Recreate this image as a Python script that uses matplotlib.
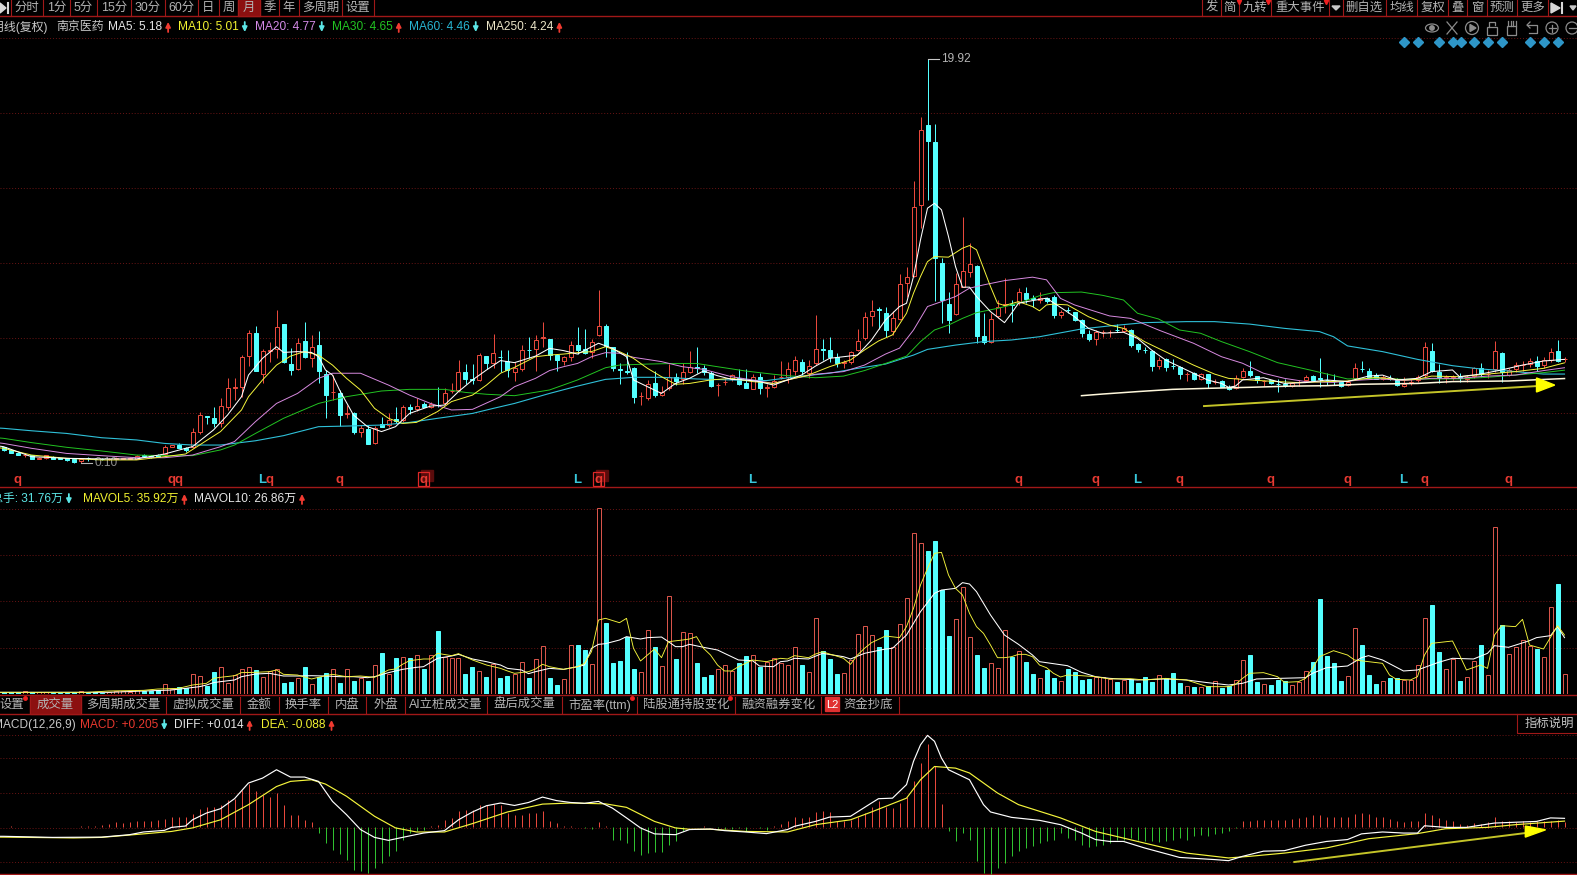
import matplotlib
matplotlib.use("Agg")
import matplotlib.pyplot as plt
from matplotlib.patches import Circle, Ellipse, Rectangle

plt.rcParams["font.family"] = ["Liberation Sans", "Noto Sans CJK SC", "DejaVu Sans"]

W, H = 1577, 875
BAR_RED = "#e8483c"
BAR_CYAN = "#54ffff"
LINE_RED = "#a01818"
GRID_RED = "#6a1414"

# monthly candles, left to right
OPEN = [
    .87, .74, .61, .49, .49, .31, .33, .38, .33, .33, .28, .18, .36, .30, .30, .29, .30, .31, .31, .30,
    .51, .44, .48, .54, .90, .98, .82, .90, 1.63, 2.40, 2.29, 2.08, 2.86, 3.79, 3.81, 5.36, 6.46, 4.45, 5.60, 5.69,
    6.91, 4.95, 4.69, 6.08, 5.26, 5.88, 4.45, 3.58, 3.51, 2.52, 2.54, 1.60, 1.77, 1.06, 2.01, 1.96, 2.24, 2.21, 2.83, 2.75,
    2.99, 2.83, 2.96, 3.02, 3.62, 3.68, 4.54, 4.21, 4.17, 5.36, 5.02, 5.32, 5.12, 4.58, 4.69, 5.65, 5.69, 6.25, 6.18, 5.39,
    5.10, 5.28, 5.87, 5.67, 5.56, 6.37, 6.82, 5.77, 4.70, 4.59, 4.74, 3.38, 3.27, 4.00, 3.43, 3.76, 4.33, 4.20, 4.58, 4.80,
    4.77, 4.53, 3.90, 4.07, 4.20, 4.25, 4.00, 3.74, 4.33, 3.80, 3.81, 4.32, 4.30, 4.63, 5.03, 4.49, 5.02, 5.67, 5.64, 5.28,
    5.01, 5.07, 5.64, 6.22, 7.31, 7.64, 7.44, 6.59, 7.18, 8.91, 9.27, 12.75, 16.67, 15.82, 9.89, 7.90, 7.41, 8.72, 9.45, 9.76,
    6.33, 6.05, 7.31, 7.85, 7.87, 8.01, 8.42, 8.18, 8.09, 8.18, 8.25, 7.35, 7.60, 7.52, 7.11, 6.42, 6.16, 6.50, 6.50, 6.62,
    6.57, 6.62, 5.93, 5.65, 5.59, 4.85, 5.18, 4.86, 4.82, 4.45, 4.53, 4.23, 4.46, 4.07, 4.12, 3.84, 3.76, 4.30, 4.63, 4.36,
    4.11, 4.17, 3.98, 3.96, 3.87, 4.06, 4.17, 4.36, 4.25, 4.17, 4.12, 4.05, 3.92, 4.25, 4.72, 4.63, 4.40, 4.23, 4.25, 4.17,
    3.87, 4.00, 4.17, 4.41, 5.59, 4.58, 4.29, 4.29, 4.31, 4.23, 4.36, 4.77, 4.45, 4.69, 5.51, 4.41, 4.71, 4.89, 4.94, 5.10,
    4.90, 5.15, 5.59, 5.18,
]
HIGH = [
    .90, .76, .62, .61, .50, .38, .50, .42, .36, .35, .30, .30, .40, .33, .33, .36, .40, .36, .38, .50,
    .55, .47, .52, .98, 1.00, 1.06, .90, 1.80, 2.62, 2.42, 2.86, 3.27, 4.25, 4.25, 5.39, 6.62, 6.82, 5.67, 6.05, 7.60,
    6.91, 5.72, 6.21, 7.00, 6.37, 6.57, 4.66, 4.41, 3.68, 2.94, 2.62, 1.96, 1.96, 1.91, 2.37, 2.57, 2.86, 2.94, 2.99, 3.27,
    3.11, 3.11, 3.81, 3.76, 4.00, 5.15, 4.95, 4.95, 5.48, 5.36, 6.42, 5.64, 5.64, 5.07, 5.88, 6.29, 6.37, 7.03, 6.18, 5.44,
    5.34, 6.08, 6.75, 6.65, 6.16, 8.58, 6.91, 5.80, 4.98, 5.56, 4.79, 3.60, 4.17, 4.63, 3.89, 4.95, 4.50, 4.98, 5.61, 5.77,
    4.90, 4.63, 4.00, 4.25, 4.46, 4.71, 4.69, 4.45, 4.53, 3.97, 4.41, 5.12, 5.07, 5.34, 5.18, 5.15, 7.35, 6.16, 6.26, 5.48,
    5.15, 5.61, 6.66, 7.52, 8.09, 7.77, 7.77, 7.57, 9.37, 9.70, 13.90, 17.05, 19.92, 16.72, 10.14, 8.47, 9.40, 12.15, 10.90, 9.81,
    7.44, 7.44, 8.09, 9.16, 8.09, 8.67, 8.75, 8.34, 8.50, 8.26, 8.34, 7.60, 7.76, 7.52, 7.14, 6.62, 6.62, 6.62, 6.62, 6.91,
    6.86, 6.65, 5.97, 5.80, 5.64, 5.31, 5.23, 5.18, 4.85, 4.58, 4.58, 4.50, 4.46, 4.22, 4.17, 3.92, 4.41, 4.74, 5.10, 4.36,
    4.17, 4.17, 4.20, 4.20, 4.09, 4.17, 4.41, 4.41, 5.23, 4.53, 4.46, 4.09, 4.17, 5.02, 5.10, 4.74, 4.50, 4.41, 4.41, 4.25,
    4.33, 4.20, 4.41, 6.01, 5.97, 4.94, 4.41, 4.41, 4.53, 4.41, 4.82, 4.99, 4.66, 6.08, 5.56, 4.74, 5.07, 5.12, 5.23, 5.34,
    5.31, 5.75, 6.13, 5.31,
]
LOW = [
    .70, .58, .48, .41, .28, .30, .32, .28, .28, .22, .12, .10, .22, .25, .25, .26, .28, .29, .29, .28,
    .42, .36, .38, .49, .87, .82, .66, .82, 1.50, 1.99, 1.88, 1.85, 2.70, 3.19, 3.35, 4.87, 4.63, 4.00, 5.07, 5.23,
    4.99, 4.41, 4.66, 5.26, 4.79, 4.00, 2.32, 3.19, 1.91, 2.29, 1.50, 1.39, 1.03, 1.03, 1.85, 1.88, 2.04, 2.13, 2.50, 2.66,
    2.83, 2.78, 2.86, 2.94, 3.51, 3.60, 3.96, 3.96, 4.12, 4.71, 4.74, 4.58, 4.30, 4.14, 4.63, 5.23, 4.63, 5.80, 5.15, 4.63,
    4.90, 5.10, 5.44, 5.44, 5.23, 6.32, 5.28, 4.63, 3.97, 4.46, 3.06, 2.94, 3.19, 3.32, 3.38, 3.68, 3.92, 3.97, 4.50, 4.53,
    4.41, 3.81, 3.38, 3.92, 4.14, 3.92, 3.76, 3.71, 3.48, 3.32, 3.76, 4.20, 4.00, 4.41, 4.41, 4.25, 4.90, 5.15, 5.07, 4.79,
    4.77, 4.95, 5.60, 6.13, 6.82, 6.66, 6.30, 6.38, 7.11, 8.26, 9.21, 11.61, 13.00, 8.02, 6.95, 6.46, 7.36, 8.72, 9.21, 5.97,
    5.94, 6.00, 7.20, 7.44, 7.03, 7.85, 7.93, 7.77, 7.93, 7.93, 7.19, 7.19, 7.44, 7.08, 6.29, 6.10, 5.88, 6.29, 6.26, 6.51,
    6.51, 5.80, 5.56, 5.51, 4.63, 4.71, 4.63, 4.69, 4.23, 4.14, 4.17, 4.17, 3.76, 3.97, 3.81, 3.68, 3.71, 4.25, 4.30, 4.04,
    3.87, 3.97, 3.60, 3.84, 3.84, 3.87, 4.09, 4.14, 3.81, 3.92, 3.92, 3.84, 3.87, 4.17, 4.58, 4.25, 4.20, 4.17, 4.17, 3.87,
    3.81, 3.92, 4.09, 4.25, 4.58, 4.00, 4.04, 4.17, 4.09, 4.09, 4.25, 4.30, 4.25, 4.58, 4.09, 4.36, 4.58, 4.63, 4.82, 4.63,
    4.74, 5.07, 5.07, 5.07,
]
CLOSE = [
    .74, .61, .51, .51, .30, .36, .48, .31, .31, .25, .15, .28, .34, .28, .28, .31, .36, .33, .33, .46,
    .44, .38, .41, .90, .97, .85, .74, 1.60, 2.45, 2.35, 2.04, 2.89, 3.76, 3.81, 5.31, 6.46, 4.63, 5.59, 5.62, 6.75,
    5.05, 4.66, 5.97, 5.31, 5.77, 4.63, 3.43, 3.60, 2.45, 2.54, 1.63, 1.80, 1.03, 1.80, 1.88, 2.21, 2.17, 2.83, 2.75, 2.88,
    2.86, 2.99, 2.94, 3.51, 3.63, 4.54, 4.22, 4.19, 5.39, 4.99, 5.48, 5.30, 4.66, 4.77, 5.64, 5.63, 6.13, 6.27, 5.39, 5.15,
    5.28, 5.88, 5.64, 5.51, 6.03, 6.82, 5.83, 4.74, 4.68, 4.57, 3.32, 3.40, 3.97, 3.43, 3.60, 4.30, 4.14, 4.54, 4.82, 4.78,
    4.54, 3.87, 3.92, 4.09, 4.41, 3.97, 3.79, 4.33, 3.76, 3.81, 4.14, 4.33, 4.69, 5.15, 4.63, 4.85, 5.67, 5.65, 5.28, 5.02,
    5.03, 5.54, 6.10, 7.25, 7.57, 7.62, 6.62, 7.20, 8.86, 9.24, 12.67, 16.43, 15.86, 10.14, 8.09, 7.11, 8.86, 9.52, 9.84, 6.35,
    6.05, 7.15, 7.77, 7.87, 7.85, 8.47, 8.13, 8.16, 8.18, 8.06, 7.35, 7.52, 7.58, 7.11, 6.49, 6.16, 6.51, 6.52, 6.52, 6.60,
    6.70, 5.88, 5.67, 5.63, 4.85, 5.15, 4.82, 4.84, 4.46, 4.47, 4.22, 4.46, 4.04, 4.09, 3.84, 3.71, 4.28, 4.63, 4.41, 4.17,
    4.13, 4.00, 3.96, 3.94, 4.00, 4.08, 4.33, 4.17, 4.23, 4.15, 4.10, 3.89, 4.07, 4.74, 4.70, 4.33, 4.23, 4.33, 4.23, 3.92,
    3.97, 4.09, 4.33, 5.80, 4.63, 4.33, 4.31, 4.31, 4.29, 4.33, 4.74, 4.46, 4.47, 5.59, 4.56, 4.66, 4.90, 4.91, 5.10, 4.87,
    5.15, 5.56, 5.12, 5.20,
]
VOLUME = [
    3.8, 2.7, 2.7, 4.8, 2.7, 3.8, 2.7, 2.1, 2.1, 2.1, 3.2, 4.8, 2.1, 3.2, 2.1, 3.8, 5.4, 4.8, 3.8, 6.4,
    5.4, 5.4, 7.0, 15.6, 8.1, 10.7, 10.2, 31.7, 29.0, 13.4, 34.9, 43.5, 18.3, 30.6, 39.7, 43.5, 38.1, 27.9, 37.1, 39.7,
    17.2, 19.3, 26.3, 43.5, 16.1, 27.9, 33.8, 39.7, 17.2, 39.7, 21.0, 25.2, 21.0, 46.2, 66.6, 32.2, 58.5, 59.6, 57.5, 62.2,
    40.3, 62.2, 101.5, 59.6, 58.0, 58.5, 33.0, 43.5, 37.1, 26.9, 47.8, 26.3, 29.0, 32.2, 51.0, 26.3, 56.4, 76.7, 26.3, 14.5,
    23.6, 78.4, 78.9, 71.0, 47.8, 299.0, 113.8, 49.4, 53.2, 92.3, 40.3, 35.4, 102.6, 75.7, 45.1, 157.3, 56.4, 99.9, 98.3, 50.0,
    26.9, 30.6, 39.7, 46.2, 37.1, 50.0, 61.2, 62.2, 44.0, 52.0, 58.5, 50.5, 46.2, 75.2, 46.7, 34.9, 121.9, 69.8, 56.4, 31.7,
    33.3, 54.8, 96.1, 109.0, 95.0, 75.2, 103.1, 75.2, 112.2, 154.1, 258.8, 242.7, 230.4, 246.5, 167.5, 93.4, 120.8, 172.9, 91.3, 62.8,
    42.4, 49.4, 41.3, 102.6, 59.1, 69.3, 51.6, 32.8, 26.3, 38.7, 26.3, 20.9, 40.3, 35.4, 22.6, 24.7, 27.9, 26.9, 23.6, 19.9,
    22.6, 23.6, 18.3, 27.4, 19.9, 30.6, 25.2, 33.8, 18.3, 12.9, 11.3, 11.3, 12.9, 20.9, 10.2, 13.4, 22.6, 54.8, 62.8, 19.9,
    16.1, 14.5, 22.6, 20.9, 14.5, 19.9, 37.1, 52.1, 153.0, 61.2, 50.5, 20.9, 29.0, 105.8, 78.9, 30.6, 16.1, 20.9, 26.3, 26.3,
    22.6, 22.6, 46.7, 121.9, 143.4, 68.2, 40.3, 56.4, 20.9, 27.9, 53.2, 78.9, 30.6, 268.5, 111.2, 64.4, 75.2, 87.0, 77.3, 72.5,
    59.6, 139.6, 177.2, 31.76,
]
MACD = [
    .02, .04, .02, .02, .01, .02, .01, .01, .01, .02, .02, .04, .04, .05, .09, .12, .18, .17, .18, .21,
    .21, .23, .25, .31, .36, .36, .36, .48, .68, .73, .73, .82, 1.01, 1.05, 1.38, 1.59, 1.34, 1.17, 1.13, 1.25,
    .82, .46, .43, .27, .18, -.22, -.59, -.84, -1.0, -1.21, -1.57, -1.64, -1.70, -1.51, -1.33, -1.08, -.90, -.47, -.22, -.14,
    -.10, .05, .09, .27, .33, .60, .64, .64, .82, .82, .85, .82, .52, .46, .46, .52, .52, .58, .21, .17,
    .04, .04, .02, -.04, -.06, .18, .04, -.47, -.47, -.59, -.90, -1.02, -.96, -.92, -.92, -.65, -.53, -.16, .01, .02,
    .05, -.01, -.04, -.06, -.06, -.04, -.14, .02, -.04, -.10, .05, .11, .21, .36, .33, .36, .54, .60, .55, .23,
    .21, .27, .39, .52, .76, .95, .76, .70, .89, 1.13, 1.69, 2.36, 3.08, 2.24, .85, -.16, -.53, -.22, -.47, -1.27,
    -1.70, -1.72, -1.51, -1.33, -1.08, -.90, -.77, -.71, -.59, -.53, -.47, -.22, -.41, -.47, -.65, -.75, -.71, -.65, -.59, -.47,
    -.47, -.41, -.47, -.53, -.53, -.55, -.53, -.47, -.41, -.47, -.34, -.31, -.34, -.26, -.22, -.16, -.04, .21, .23, .27,
    .27, .27, .27, .27, .30, .33, .39, .43, .43, .39, .37, .36, .39, .48, .52, .48, .39, .36, .31, .23,
    .18, .21, .21, .52, .46, .33, .25, .21, .12, .09, .15, .11, .18, .36, .21, .21, .18, .21, .18, .23,
    .23, .21, .27, .205,
]

# moving averages: month index, value (-1 is the month cut off at the left edge)
MA5_X = [-1, 0, 4, 9, 14, 19, 23, 26, 27, 30, 32, 34, 35, 37, 39, 40, 42, 44, 45, 46, 47, 48, 50, 52, 54, 56, 58, 61, 63, 65, 67, 69, 71, 73,
         76, 78, 80, 82, 85, 87, 89, 90, 92, 94, 96, 98, 100, 102, 104, 106, 108, 110, 112, 114, 116, 118, 120, 122, 124, 126, 128,
         129, 130, 131, 132, 133, 134, 135, 136, 137, 138, 139, 141, 143, 144, 145, 147, 149,
         151, 153, 155, 157, 160, 162, 164, 166, 169, 172, 174, 175, 176, 177, 180, 183, 186, 189, 192, 195, 197, 199, 202, 204, 207, 208, 211, 214, 217, 220, 223]
MA5 = [.95, .90, .41, .33, .30, .30, .54, .82, .90, 1.72, 2.45, 3.35, 4.41, 5.23, 5.80, 5.52, 5.56, 5.52, 5.31, 4.66, 4.41, 3.68, 2.45, 1.88, 1.64, 1.88, 2.53, 2.89, 2.94, 3.60, 4.17, 4.66, 5.12, 5.02,
       5.34, 5.72, 5.61, 5.44, 5.97, 5.72, 5.31, 4.17, 3.84, 3.51, 4.00, 4.25, 4.61, 4.38, 4.20, 4.17, 4.09, 3.92, 4.17, 4.41, 4.85, 5.23, 5.31, 5.39, 6.13, 7.11, 7.77,
       7.93, 9.24, 11.04, 12.59, 12.83, 12.51, 11.20, 9.73, 8.72, 8.72, 8.26, 7.52, 6.98, 7.44, 7.93, 8.06, 8.18,
       7.73, 7.27, 6.70, 6.46, 6.51, 6.21, 5.64, 5.15, 4.66, 4.17, 4.00, 3.81, 3.87, 4.17, 4.28, 4.00, 4.04, 4.17, 4.09, 4.36, 4.41, 4.17, 4.25, 4.58, 4.66, 4.33, 4.46, 4.66, 4.90, 5.10, 5.18]

MA10_X = [-1, 0, 4, 9, 14, 19, 23, 26, 28, 31, 34, 35, 37, 39, 41, 43, 45, 47, 49, 51, 53, 55, 57, 59, 62, 64, 67, 69, 71, 73,
          76, 78, 80, 82, 84, 86, 88, 90, 92, 94, 96, 98, 101, 104, 107, 110, 112, 115, 118, 121, 123, 125, 127, 129, 130, 131, 132, 133, 135, 137, 138, 139, 141, 142, 143, 145, 147, 148, 149,
          150, 152, 155, 158, 160, 163, 167, 170, 173, 175, 178, 182, 185, 189, 192, 196, 200, 202, 204, 208, 212, 216, 220, 223]
MA10 = [.86, .82, .49, .33, .25, .25, .41, .54, .98, 1.64, 2.70, 3.35, 4.17, 4.90, 5.34, 5.56, 5.39, 4.90, 4.25, 3.68, 2.78, 2.29, 2.04, 2.09, 2.62, 3.11, 3.43, 3.92, 4.50, 4.79,
        5.31, 5.39, 5.44, 5.51, 5.56, 5.80, 5.56, 5.23, 4.74, 4.33, 3.96, 4.00, 4.17, 4.25, 4.09, 4.00, 4.17, 4.41, 4.82, 5.15, 5.64, 6.08, 6.38, 7.44, 8.42, 9.24, 9.97, 10.22, 10.19, 10.63, 10.76, 10.55, 8.75, 7.93, 7.82, 8.01, 7.77, 7.56, 7.85,
        7.89, 7.85, 7.27, 6.86, 6.70, 6.05, 5.39, 4.90, 4.46, 4.25, 4.17, 4.09, 4.04, 4.09, 4.12, 4.30, 4.17, 4.20, 4.36, 4.33, 4.46, 4.58, 4.74, 5.01]

MA20_X = [-1, 0, 4, 9, 14, 19, 23, 27, 31, 33, 36, 39, 42, 45, 47, 51, 55, 58, 61, 64, 67, 71, 73,
          76, 78, 80, 82, 84, 86, 88, 90, 94, 97, 100, 104, 107, 110, 113, 116, 120, 123, 126, 128, 130, 132, 134, 136, 138, 140, 143, 147, 149,
          151, 153, 158, 161, 165, 170, 174, 177, 180, 183, 186, 190, 194, 197, 200, 204, 208, 212, 216, 220, 223]
MA20 = [1.10, 1.06, .82, .57, .46, .36, .36, .49, .90, 1.15, 2.13, 3.02, 3.51, 4.25, 4.50, 4.50, 3.92, 3.43, 3.02, 2.70, 2.73, 3.35, 3.84,
        4.25, 4.63, 4.82, 4.98, 5.31, 5.51, 5.48, 5.28, 5.07, 4.82, 4.69, 4.33, 4.17, 4.00, 4.25, 4.45, 4.58, 4.90, 5.44, 5.73, 6.62, 7.77, 8.01, 8.26, 8.67, 8.83, 9.04, 9.21, 9.08,
        8.17, 7.85, 7.31, 7.19, 6.62, 5.97, 5.31, 4.99, 4.50, 4.25, 4.09, 4.05, 4.17, 4.22, 4.14, 4.25, 4.25, 4.36, 4.41, 4.63, 4.77]

MA30_X = [-1, 0, 4, 9, 14, 19, 23, 27, 31, 33, 36, 40, 45, 49, 54, 58, 63, 66, 69, 73,
          78, 82, 86, 88, 92, 96, 99, 102, 106, 110, 112, 116, 120, 123, 126, 129, 131, 133, 135, 137, 139, 142, 145, 148,
          150, 154, 157, 160, 162, 165, 168, 171, 174, 178, 182, 187, 192, 196, 200, 204, 208, 212, 216, 220, 223]
MA30 = [1.34, 1.31, 1.10, .87, .69, .49, .46, .46, .74, .98, 1.55, 2.29, 3.02, 3.35, 3.63, 3.71, 3.71, 3.56, 3.47, 3.40,
        3.68, 4.17, 4.77, 4.90, 4.95, 4.98, 4.98, 4.82, 4.61, 4.45, 4.38, 4.28, 4.36, 4.63, 4.98, 5.34, 6.05, 6.62, 6.86, 7.19, 7.47, 7.68, 7.93, 8.30,
        8.45, 8.48, 8.32, 8.09, 7.44, 7.16, 6.62, 6.46, 6.05, 5.56, 5.02, 4.63, 4.22, 4.25, 4.20, 4.22, 4.22, 4.30, 4.41, 4.53, 4.65]

MA60_X = [-1, 0, 4, 9, 14, 19, 23, 27, 31, 36, 40, 45, 49, 54, 58, 62, 67, 70, 73,
          78, 82, 86, 90, 94, 99, 104, 109, 114, 118, 122, 126, 130, 132, 136, 140, 144, 148,
          154, 158, 163, 169, 173, 178, 183, 188, 190, 192, 197, 202, 207, 211, 215, 220, 223]
MA60 = [1.82, 1.80, 1.68, 1.55, 1.34, 1.23, 1.06, .98, .98, 1.19, 1.44, 1.88, 1.91, 1.96, 2.09, 2.29, 2.53, 2.78, 3.02,
        3.51, 3.87, 4.20, 4.30, 4.30, 4.22, 4.17, 4.14, 4.36, 4.50, 4.74, 4.95, 5.39, 5.67, 5.88, 6.05, 6.13, 6.29,
        6.67, 6.82, 6.98, 7.03, 7.03, 6.91, 6.70, 6.54, 6.29, 5.84, 5.56, 5.18, 4.87, 4.71, 4.61, 4.46, 4.46]

MA250_X = [154, 157, 162, 167, 172, 178, 184, 189, 194, 202, 207, 215, 223]
MA250 = [3.40, 3.48, 3.60, 3.71, 3.76, 3.81, 3.87, 3.89, 3.96, 4.00, 4.09, 4.12, 4.24]

MAVOL5_X = [-1, 0, 12, 15, 20, 22, 25, 27, 29, 30, 31, 33, 34, 36, 38, 39, 40, 42, 44, 46, 47, 49, 51, 53, 55, 56, 57, 58, 60, 61, 62, 64, 65, 67, 69, 71, 72, 73, 75, 76, 77, 78, 80, 82, 83, 84, 85, 86, 88, 89, 90, 91, 92, 93, 94, 95, 97, 98, 99, 100, 101, 102, 103, 104, 105, 107, 109, 110, 111, 112,
            113, 114, 115, 116, 117, 118, 119, 120, 121, 122, 123, 124, 125, 126, 128, 129, 130, 131, 132, 133, 134, 135, 136, 137, 138, 139, 140, 141, 142, 143, 144, 145, 146, 147, 148, 149, 150, 151, 152, 154, 156, 158, 161, 163, 166, 169, 172, 175, 176, 177, 178, 180, 182, 183, 185, 186, 187, 188, 190, 192, 193, 195, 197, 198, 199, 201, 202, 203, 204, 207, 208, 209, 211, 212, 213, 214, 216, 217, 218, 220, 222, 223]
MAVOL5 = [2.7, 2.7, 2.7, 4.8, 5.9, 8.0, 9.1, 14.5, 17.2, 25.2, 26.9, 29.5, 34.4, 34.9, 36.0, 38.7, 31.7, 30.6, 24.2, 29.5, 31.7, 27.9, 29.0, 26.9, 38.7, 40.3, 47.8, 53.7, 56.4, 56.4, 65.5, 61.8, 65.0, 54.8, 46.7, 41.3, 37.1, 33.3, 36.0, 40.3, 47.8, 44.0, 39.7, 44.0, 49.4, 68.2, 119.2, 121.9, 114.9, 121.9, 73.6, 53.2, 62.8, 72.5, 58.5, 84.3, 87.0, 88.6, 92.4, 73.6, 62.8, 46.7, 37.1, 37.1, 44.0, 54.8, 52.1, 54.8, 57.5, 56.4,
          61.8, 60.1, 58.5, 64.4, 68.2, 64.4, 61.2, 57.5, 47.8, 62.8, 73.6, 82.7, 88.1, 93.4, 90.8, 108.5, 138.0, 175.6, 202.4, 226.6, 228.2, 191.7, 170.2, 159.5, 130.0, 108.5, 97.7, 78.9, 58.5, 58.5, 60.1, 63.9, 63.9, 60.1, 46.7, 42.4, 33.3, 27.4, 30.6, 29.5, 27.9, 24.2, 24.7, 22.6, 25.2, 22.6, 11.8, 11.8, 15.6, 25.2, 33.3, 34.4, 27.9, 18.8, 19.9, 25.2, 41.3, 60.1, 69.8, 62.8, 54.8, 52.1, 49.4, 30.6, 23.6, 22.6, 27.9, 62.8, 81.6, 85.4, 62.8, 38.7, 46.7, 41.3, 95.0, 110.1, 108.5, 120.3, 78.9, 72.5, 110.1, 95.0]

MAVOL10_X = [-1, 0, 15, 20, 24, 26, 28, 29, 30, 31, 33, 34, 36, 38, 40, 42, 44, 46, 48, 50, 52, 53, 55, 57, 59, 60, 62, 64, 65, 67, 69, 71, 72, 74, 75, 76, 78, 80, 82, 83, 84, 85, 86, 88, 89, 91, 92, 94, 95, 96, 97, 98, 100, 102, 103, 105, 107, 108, 110, 111, 112,
             113, 115, 117, 120, 121, 123, 126, 127, 129, 131, 133, 134, 136, 137, 138, 139, 141, 143, 145, 147, 148, 152, 154, 156, 158, 162, 166, 169, 172, 175, 177, 179, 186, 187, 189, 192, 194, 195, 197, 200, 202, 205, 207, 210, 212, 213, 215, 218, 219, 221, 222, 223]
MAVOL10 = [2.7, 2.7, 2.7, 4.8, 6.4, 9.1, 11.8, 14.5, 18.3, 19.9, 22.6, 27.9, 32.2, 33.3, 29.0, 29.0, 29.5, 29.0, 27.9, 27.9, 26.3, 27.9, 34.4, 39.7, 43.0, 44.0, 57.5, 61.2, 63.9, 56.4, 52.1, 46.7, 41.3, 38.7, 32.8, 36.0, 41.3, 39.7, 44.0, 46.7, 73.6, 80.0, 81.1, 87.0, 92.4, 88.6, 90.8, 91.8, 84.3, 76.3, 76.3, 80.0, 75.2, 70.9, 65.5, 54.8, 53.7, 45.1, 44.0, 52.1, 53.2,
           57.5, 56.4, 65.5, 60.1, 56.4, 65.5, 72.5, 73.6, 95.0, 132.6, 162.2, 167.5, 170.2, 179.4, 177.2, 164.9, 127.3, 95.0, 80.0, 62.8, 52.1, 45.6, 34.9, 27.9, 25.2, 22.6, 24.2, 22.6, 18.3, 14.5, 17.2, 24.2, 26.3, 33.3, 42.4, 45.1, 58.5, 61.8, 54.8, 37.1, 38.7, 51.0, 57.5, 56.4, 65.5, 77.9, 75.2, 85.9, 90.8, 94.0, 108.5, 90.8]

DIFF_X = [-1, 0, 7, 14, 18, 20, 23, 24, 26, 27, 29, 31, 33, 35, 37, 39, 41, 43, 45, 47, 49, 51, 53, 55, 57, 60, 63, 65, 67, 69, 71, 73, 75, 77, 79, 81, 83, 85, 87, 89, 91, 93, 96, 98, 101, 103, 106, 109, 112,
          113, 116, 118, 121, 124, 125, 127, 129, 130, 131, 132, 133, 134, 135, 138, 140, 141, 144, 148, 151, 154, 156, 158, 160, 163, 168, 173, 175, 177, 180, 183, 186, 189, 192, 194, 197, 200, 202, 203, 206, 209, 213, 216, 219, 221, 223]
DIFF = [-.65, -.65, -.69, -.68, -.59, -.49, -.43, -.32, -.27, -.04, .21, .37, .74, 1.32, 1.50, 1.81, 1.54, 1.54, 1.38, .64, .15, -.40, -.69, -.80, -.69, -.53, -.44, -.04, .25, .48, .58, .49, .60, .80, .67, .60, .57, .64, .39, .03, -.34, -.56, -.59, -.40, -.38, -.44, -.49, -.55, -.40,
        -.28, -.10, .06, .09, .58, .74, .76, 1.26, 2.12, 2.73, 3.08, 2.86, 2.24, 1.81, 1.44, .52, .25, .05, -.06, -.22, -.53, -.77, -.84, -.84, -1.08, -1.43, -1.51, -1.55, -1.39, -1.20, -1.18, -.98, -.84, -.77, -.56, -.49, -.53, -.53, -.26, -.32, -.32, -.16, -.13, -.10, .03, .014]

DEA_X = [-1, 0, 10, 14, 20, 24, 27, 31, 35, 39, 41, 44, 46, 49, 53, 56, 59, 63, 67, 72, 77, 81, 86, 89, 93, 96, 98, 101, 106, 112,
         116, 121, 124, 129, 131, 133, 136, 138, 142, 145, 151, 156, 163, 169, 175, 178, 183, 189, 195, 202, 206, 212, 216, 223]
DEA = [-.68, -.68, -.71, -.69, -.56, -.47, -.34, -.04, .52, 1.19, 1.38, 1.44, 1.28, .83, .09, -.34, -.49, -.49, -.18, .25, .54, .58, .55, .42, -.10, -.34, -.39, -.39, -.47, -.49,
       -.22, -.04, .25, .76, 1.44, 1.93, 1.87, 1.69, .95, .52, .03, -.47, -.90, -1.27, -1.45, -1.39, -1.27, -1.08, -.74, -.55, -.37, -.32, -.22, -.088]

# months carrying a q or L tag under the candles
Q_MONTHS = [2, 24, 25, 38, 48, 60, 85, 145, 156, 168, 181, 192, 203, 215]
L_MONTHS = [37, 82, 107, 162, 200]
BOXED_MONTHS = [60, 85]

TOP_TABS = ["分时", "1分", "5分", "15分", "30分", "60分", "日", "周", "月", "季", "年", "多周期", "设置"]
TOP_EDGES = [11, 43, 70, 97, 131, 165, 198, 219, 238, 260, 279, 299, 342, 374]
RIGHT_TABS = ["发", "简", "九转", "重大事件", "", "删自选", "均线", "复权", "叠", "窗", "预测", "更多"]
RIGHT_EDGES = [1202, 1221, 1239, 1271, 1329, 1343, 1386, 1417, 1448, 1467, 1487, 1517, 1548]
BOTTOM_TABS = ["设置", "成交量", "多周期成交量", "虚拟成交量", "金额", "换手率", "内盘", "外盘", "AI立桩成交量", "盘后成交量", "市盈率(ttm)", "陆股通持股变化", "融资融券变化", ""]
BOTTOM_EDGES = [-6, 30, 81, 166, 240, 279, 328, 366, 405, 487, 562, 637, 735, 821, 899]
DIAMONDS = [1404, 1418, 1439, 1453, 1461, 1474, 1488, 1502, 1530, 1544, 1558]

HEAD_PRICE = [(-7, "月线(复权)", "#c8c8c8", None), (56, "南京医药", "#c8c8c8", None),
              (108, "MA5: 5.18", "#e6e6e6", 1), (178, "MA10: 5.01", "#f2f230", -1),
              (255, "MA20: 4.77", "#d48ae6", -1), (332, "MA30: 4.65", "#22c322", 1),
              (409, "MA60: 4.46", "#28b4d2", -1), (486, "MA250: 4.24", "#ece6c8", 1)]
HEAD_VOL = [(-9, "总手: 31.76万", "#5ce6e6", -1), (83, "MAVOL5: 35.92万", "#f2f230", 1),
            (194, "MAVOL10: 26.86万", "#e6e6e6", 1)]
HEAD_MACD = [(-7, "MACD(12,26,9)", "#c8c8c8", None), (80, "MACD: +0.205", "#e8382e", -1),
             (174, "DIFF: +0.014", "#e6e6e6", 1), (261, "DEA: -0.088", "#f2f230", 1)]


def panel(top, bottom, ymin, ymax):
    ax = fig.add_axes([0, 1 - bottom / H, 1, (bottom - top) / H], zorder=2)
    ax.set_xlim(-0.5, (W - 3.5) / 7)
    ax.set_ylim(ymin, ymax)
    ax.axis("off")
    return ax


def head_row(y, items):
    for x, label, color, arrow in items:
        t = chrome.text(x, y, label, color=color, fontsize=8.6, va="center", ha="left")
        if arrow is not None:
            end = x + t.get_window_extent(fig.canvas.get_renderer()).width + 6
            ends = (y + 5, y - 5) if arrow > 0 else (y - 5, y + 5)
            chrome.annotate("", xy=(end, ends[1]), xytext=(end, ends[0]),
                            arrowprops=dict(arrowstyle="-|>", lw=1.3, mutation_scale=7, shrinkA=0, shrinkB=0,
                                            color="#f03a30" if arrow > 0 else "#5ce6e6"))


def tabs(edges, labels, y, color="#b4b4b4", size=8.9):
    for left, right, label in zip(edges[:-1], edges[1:], labels):
        chrome.text((left + right) / 2, y, label, color=color, fontsize=size, ha="center", va="center")
    for e in edges:
        chrome.plot([e, e], [y - 8, y + 8], color=LINE_RED, lw=0.8)


fig = plt.figure(figsize=(W / 100, H / 100), dpi=100, facecolor="black")
chrome = fig.add_axes([0, 0, 1, 1], zorder=1)
chrome.set_xlim(0, W)
chrome.set_ylim(H, 0)
chrome.axis("off")

# frame and dotted grid
for y in [16, 487, 695, 714, 874]:
    chrome.plot([0, W], [y, y], color=LINE_RED, lw=1)
for y in [37.5, 112.5, 187.5, 262.5, 337.5, 412.5, 508.5, 554.5, 601, 647.5, 735, 757.5, 792.5, 827.5, 862]:
    chrome.plot([0, W], [y, y], color=GRID_RED, lw=0.7, ls=(0, (1, 2)))

# toolbar, tabs
tabs(TOP_EDGES, TOP_TABS, 8)
chrome.add_patch(Rectangle((238, 0), 22, 16, color="#8c1010", zorder=0))
tabs(RIGHT_EDGES, RIGHT_TABS, 8)
chrome.fill([1332, 1340, 1336], [6, 6, 10], color="#c8c8c8")
chrome.fill([1551, 1551, 1560], [3, 13, 8], color="#d8d8d8")
chrome.plot([1562, 1562], [3, 13], color="#d8d8d8", lw=1.5)
chrome.fill([1570, 1576, 1573], [6, 6, 10], color="#c8c8c8")
chrome.fill([0, 0, 6], [3, 13, 8], color="#d8d8d8")
chrome.plot([8, 8], [3, 13], color="#d8d8d8", lw=1.5)
tabs(BOTTOM_EDGES, BOTTOM_TABS, 705)
chrome.add_patch(Rectangle((30, 695), 51, 19, color="#8c1010", zorder=0))
chrome.add_patch(Rectangle((825, 697), 14, 14, color="#e03030", zorder=3))
chrome.text(832, 705, "L2", color="white", fontsize=8, ha="center", va="center", zorder=4)
chrome.text(843, 705, "资金抄底", color="#b4b4b4", fontsize=8.9, ha="left", va="center")
chrome.plot([25, 632, 730], [698, 698, 698], ls="", marker="o", ms=2.5, color="#f02020")
chrome.plot([1239, 1268, 1326], [2, 2, 2], ls="", marker="v", ms=3, color="#f02020")
chrome.plot([1517, 1517, W], [714, 733, 733], color=LINE_RED, lw=0.8)
chrome.text(1525, 724, "指标说明", color="#c8c8c8", fontsize=8.9, ha="left", va="center")

# icon row, roughly
ICON = "#8c8c8c"
chrome.add_patch(Ellipse((1432, 28), 13, 8, fill=False, ec=ICON, lw=0.9))
chrome.add_patch(Circle((1432, 28), 2.2, color=ICON))
chrome.plot([1447, 1457], [22, 34], color=ICON, lw=0.9)
chrome.plot([1457, 1447], [22, 34], color=ICON, lw=0.9)
chrome.add_patch(Circle((1472, 28), 6.5, fill=False, ec=ICON, lw=0.9))
chrome.fill([1470, 1470, 1476], [24.5, 31.5, 28], color=ICON)
chrome.add_patch(Rectangle((1487, 27), 10, 8, fill=False, ec=ICON, lw=0.9))
chrome.plot([1489, 1489, 1495, 1495], [27, 22, 22, 25], color=ICON, lw=0.9)
chrome.add_patch(Rectangle((1507, 26), 9, 9, fill=False, ec=ICON, lw=0.9))
for fx in [1508, 1510.5, 1513, 1515.5]:
    chrome.plot([fx, fx], [21, 26], color=ICON, lw=0.9)
chrome.plot([1530, 1527, 1530], [22, 25, 28], color=ICON, lw=0.9)
chrome.plot([1527, 1537, 1537, 1529], [25, 25, 33, 33], color=ICON, lw=0.9)
for cx, marks in [(1552, True), (1572, False)]:
    chrome.add_patch(Circle((cx, 28), 6, fill=False, ec=ICON, lw=0.9))
    chrome.plot([cx - 3.5, cx + 3.5], [28, 28], color=ICON, lw=0.9)
    if marks:
        chrome.plot([cx, cx], [24.5, 31.5], color=ICON, lw=0.9)
chrome.plot(DIAMONDS, [42] * len(DIAMONDS), ls="", marker="D", ms=4.6, color="#2e96c8")

head_row(27, HEAD_PRICE)
head_row(499, HEAD_VOL)
head_row(725, HEAD_MACD)

months = list(range(len(CLOSE)))
assert all(len(s) == len(months) for s in [OPEN, HIGH, LOW, VOLUME, MACD])
up = [c >= o for o, c in zip(OPEN, CLOSE)]
colors = [BAR_RED if u else BAR_CYAN for u in up]
bottoms = [min(o, c) for o, c in zip(OPEN, CLOSE)]
heights = [max(abs(c - o), 0.02) for o, c in zip(OPEN, CLOSE)]
BAR_W = 4 / 7

# price panel: 20.4 px per yuan
ax_p = panel(17, 487, (463 - 487) / 20.4 + 0.1, (463 - 17) / 20.4 + 0.1)
ax_p.vlines(months, LOW, HIGH, colors=colors, lw=0.72, zorder=2)
ax_p.bar(months, heights, bottom=bottoms, width=BAR_W, facecolor=["black" if u else BAR_CYAN for u in up],
         edgecolor=colors, lw=0.72, zorder=3)
ax_p.plot(MA250_X, MA250, color="#fff8dc", lw=1.1, zorder=4)
ax_p.plot(MA60_X, MA60, color="#2fc0d8", lw=0.8, zorder=4)
ax_p.plot(MA30_X, MA30, color="#22c322", lw=0.7, zorder=4)
ax_p.plot(MA20_X, MA20, color="#d88ae0", lw=0.7, zorder=5)
ax_p.plot(MA10_X, MA10, color="#f5f53c", lw=0.7, zorder=6)
ax_p.plot(MA5_X, MA5, color="white", lw=0.75, zorder=7)

high_at = HIGH.index(max(HIGH))
low_at = LOW.index(min(LOW))
ax_p.plot([high_at, high_at + 1.6], [max(HIGH)] * 2, color="#c8c8c8", lw=0.8)
ax_p.text(high_at + 2.0, max(HIGH), f"{max(HIGH):.2f}", color="#b4b4b4", fontsize=8.6, va="center")
ax_p.plot([low_at, low_at + 1.6], [min(LOW)] * 2, color="#b4b4b4", lw=0.8)
ax_p.text(low_at + 2.0, min(LOW), f"{min(LOW):.2f}", color="#8c8c8c", fontsize=8.6, va="center")

TAG_Y = -0.73
for m in BOXED_MONTHS:
    ax_p.add_patch(Rectangle((m - 0.35, -0.78), 1.7, 0.54, color="#5a0c0c", zorder=2))
    ax_p.add_patch(Rectangle((m - 0.85, -1.03), 1.7, 0.69, fill=False, ec="#e02828", lw=0.9, zorder=3))
for m in Q_MONTHS:
    ax_p.text(m, TAG_Y, "q", color="#e83a32", fontsize=9.5, fontweight="bold", ha="center", va="center", zorder=8)
for m in L_MONTHS:
    ax_p.text(m, TAG_Y, "L", color="#38c8dc", fontsize=9.5, fontweight="bold", ha="center", va="center", zorder=8)

ax_p.plot([171.5, 219], [2.89, 3.87], color="#c4c428", lw=1.4, zorder=8)
ax_p.fill([219, 219, 221.6], [3.58, 4.27, 3.92], color="#ffff00", zorder=9)

# volume panel
ax_v = panel(487, 694, 0, 333.5)
ax_v.bar(months, VOLUME, width=BAR_W, facecolor=["black" if u else BAR_CYAN for u in up],
         edgecolor=["#d8544a" if u else BAR_CYAN for u in up], lw=0.72, zorder=2)
ax_v.plot(MAVOL10_X, MAVOL10, color="white", lw=0.75, zorder=3)
ax_v.plot(MAVOL5_X, MAVOL5, color="#f5f53c", lw=0.65, zorder=4)

# macd panel, bars stand on their own base under the DIFF zero
MACD_BASE = -0.31
ax_m = panel(714, 875, -2.08, 3.87)
ax_m.vlines(months, MACD_BASE, [MACD_BASE + v for v in MACD],
            colors=["#e8483c" if v >= 0 else "#30c030" for v in MACD], lw=0.72, zorder=2)
ax_m.plot(DIFF_X, DIFF, color="white", lw=0.85, zorder=4)
ax_m.plot(DEA_X, DEA, color="#f5f53c", lw=0.85, zorder=3)
ax_m.plot([184.4, 217.4], [-1.60, -0.53], color="#c4c428", lw=1.4, zorder=5)
ax_m.fill([217.4, 217.4, 220.3], [-0.27, -0.68, -0.41], color="#ffff00", zorder=6)

fig.savefig("out.png", dpi=100, facecolor="black")
